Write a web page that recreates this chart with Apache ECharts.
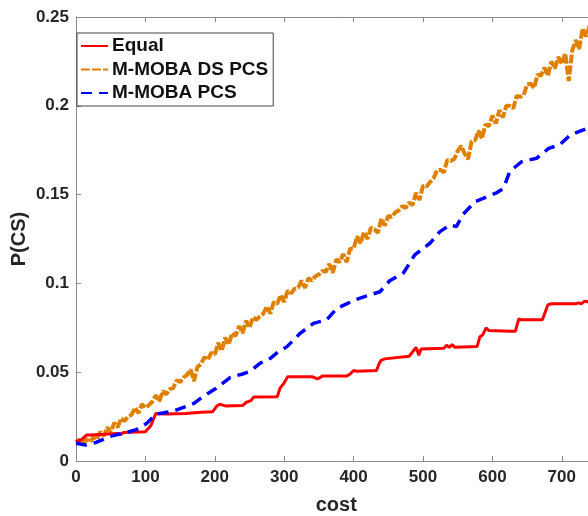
<!DOCTYPE html>
<html>
<head>
<meta charset="utf-8">
<script src="https://cdn.jsdelivr.net/npm/echarts@6/dist/echarts.min.js"></script>
<style>
html,body{margin:0;padding:0;background:#fff;overflow:hidden;}
#c{width:600px;height:516px;}
</style>
</head>
<body>
<div id="c"></div>
<script>
const seriesNames = ['Equal', 'M-MOBA DS PCS', 'M-MOBA PCS'];
const xTicks = [0, 100, 200, 300, 400, 500, 600, 700];
const yTicks = [0, 0.05, 0.1, 0.15, 0.2, 0.25];

// Equal (stepwise) : [cost, P(CS)]
const equalCost = [0,8,15,20,40,60,65,68,100,108,115,130,158,180,197,203,207,215,240,245,252,256,290,294,300,305,340,348,355,390,395,400,405,433,437,440,445,480,490,494,497,530,534,538,542,546,578,582,586,591,595,626,628,633,638,642,672,680,685,720,724,728,733,738,742,750];
const equalVal = [0.0110,0.0120,0.0146,0.0146,0.0150,0.0155,0.0150,0.0160,0.0165,0.0200,0.0268,0.0265,0.0268,0.0275,0.0278,0.0310,0.0320,0.0310,0.0312,0.0330,0.0340,0.0360,0.0362,0.0410,0.0440,0.0475,0.0475,0.0462,0.0478,0.0478,0.0490,0.0510,0.0505,0.0510,0.0550,0.0568,0.0575,0.0590,0.0640,0.0595,0.0630,0.0635,0.0652,0.0640,0.0655,0.0640,0.0645,0.0700,0.0710,0.0750,0.0735,0.0730,0.0720,0.0730,0.0800,0.0795,0.0795,0.0880,0.0885,0.0885,0.0890,0.0885,0.0900,0.0895,0.0915,0.0920];

// M-MOBA DS PCS (noisy), every 5 cost units from 0 to 750
const dsCost = [0,5,10,15,20,25,30,35,40,45,50,55,60,65,70,75,80,85,90,95,100,105,110,115,120,125,130,135,140,145,150,155,160,165,170,175,180,185,190,195,200,205,210,215,220,225,230,235,240,245,250,255,260,265,270,275,280,285,290,295,300,305,310,315,320,325,330,335,340,345,350,355,360,365,370,375,380,385,390,395,400,405,410,415,420,425,430,435,440,445,450,455,460,465,470,475,480,485,490,495,500,505,510,515,520,525,530,535,540,545,550,555,560,565,570,575,580,585,590,595,600,605,610,615,620,625,630,635,640,645,650,655,660,665,670,675,680,685,690,695,700,705,710,715,720,725,730,735,740,745,750];
const dsVal = [0.0105,0.0120,0.0095,0.0125,0.0105,0.0135,0.0120,0.0165,0.0140,0.0190,0.0160,0.0215,0.0190,0.0240,0.0225,0.0250,0.0260,0.0300,0.0270,0.0320,0.0300,0.0315,0.0335,0.0370,0.0335,0.0395,0.0375,0.0405,0.0410,0.0455,0.0445,0.0470,0.0485,0.0515,0.0450,0.0530,0.0545,0.0585,0.0570,0.0610,0.0600,0.0665,0.0620,0.0695,0.0655,0.0720,0.0705,0.0760,0.0720,0.0790,0.0750,0.0810,0.0795,0.0815,0.0830,0.0870,0.0830,0.0895,0.0885,0.0935,0.0895,0.0960,0.0945,0.0970,0.0975,0.1015,0.0975,0.1030,0.1015,0.1040,0.1050,0.1070,0.1065,0.1110,0.1060,0.1135,0.1120,0.1165,0.1120,0.1195,0.1195,0.1265,0.1225,0.1290,0.1250,0.1315,0.1305,0.1285,0.1365,0.1325,0.1380,0.1375,0.1400,0.1410,0.1435,0.1425,0.1455,0.1440,0.1510,0.1470,0.1550,0.1545,0.1570,0.1590,0.1635,0.1640,0.1625,0.1695,0.1690,0.1700,0.1745,0.1775,0.1730,0.1700,0.1800,0.1805,0.1860,0.1815,0.1895,0.1885,0.1945,0.1900,0.1975,0.1935,0.2000,0.2000,0.1985,0.2055,0.2050,0.2060,0.2120,0.2125,0.2100,0.2175,0.2170,0.2215,0.2170,0.2250,0.2210,0.2275,0.2235,0.2295,0.2140,0.2310,0.2370,0.2320,0.2435,0.2390,0.2450,0.2410,0.2450];

// M-MOBA PCS (smooth, dashed)
const pcsCost = [0,14,29,48,67,86,102,115,125,139,158,170,182,202,222,240,251,265,280,290,304,323,342,361,376,390,404,419,438,452,472,488,510,524,539,548,558,575,592,606,616,625,642,664,681,697,712,731,740,750];
const pcsVal = [0.0100,0.0090,0.0105,0.0137,0.0156,0.0175,0.0212,0.0265,0.0270,0.0280,0.0306,0.0325,0.0360,0.0410,0.0470,0.0490,0.0505,0.0550,0.0578,0.0610,0.0644,0.0719,0.0775,0.0794,0.0860,0.0885,0.0910,0.0930,0.0953,0.1015,0.1060,0.1160,0.1226,0.1290,0.1330,0.1320,0.1390,0.1460,0.1488,0.1510,0.1535,0.1630,0.1685,0.1705,0.1760,0.1780,0.1835,0.1864,0.1880,0.1890];

const zip = (a, b) => a.map((v, i) => [v, b[i]]);

const FONT = 'Liberation Sans';
const AX = '#8a8a8a';
const TXT = '#262626';

const chart = echarts.init(document.getElementById('c'), null, {renderer: 'canvas'});
chart.setOption({
  animation: false,
  backgroundColor: '#fff',
  grid: {left: 76, top: 17, width: 520.5, height: 444, containLabel: false, outerBoundsMode: 'none'},
  legend: {
    orient: 'vertical', left: 77, top: 33,
    padding: [3, 5, 3, 3],
    itemGap: 3.5, itemWidth: 27, itemHeight: 14,
    backgroundColor: '#fff', borderColor: '#444', borderWidth: 1,
    itemStyle: {opacity: 0},
    textStyle: {fontFamily: FONT, fontWeight: 'bold', fontSize: 19, lineHeight: 20, color: '#111', padding: [0, 0, 0, -1]},
    data: seriesNames
  },
  xAxis: [{
    type: 'value', min: 0, max: 750, interval: 100,
    name: 'cost', nameLocation: 'middle', nameGap: 34, nameMoveOverlap: false,
    nameTextStyle: {fontFamily: FONT, fontWeight: 'bold', fontSize: 20, color: TXT},
    axisLine: {show: true, lineStyle: {color: AX, width: 1}},
    axisTick: {show: true, inside: true, length: 5, lineStyle: {color: AX}},
    axisLabel: {fontFamily: FONT, fontWeight: 'bold', fontSize: 17, color: TXT, margin: 8, showMaxLabel: false,
      formatter: v => (xTicks.indexOf(v) >= 0 ? String(v) : '')},
    splitLine: {show: false}
  }, {
    type: 'value', position: 'top', min: 0, max: 750, interval: 100,
    axisLine: {show: true, lineStyle: {color: AX, width: 1}},
    axisTick: {show: true, inside: true, length: 5, lineStyle: {color: AX}},
    axisLabel: {show: false},
    splitLine: {show: false}
  }],
  yAxis: {
    type: 'value', min: 0, max: 0.25, interval: 0.05,
    name: 'P(CS)', nameLocation: 'middle', nameGap: 47, nameRotate: 90, nameMoveOverlap: false,
    nameTextStyle: {fontFamily: FONT, fontWeight: 'bold', fontSize: 20, color: TXT},
    axisLine: {show: true, lineStyle: {color: AX, width: 1}},
    axisTick: {show: true, inside: true, length: 5, lineStyle: {color: AX}},
    axisLabel: {fontFamily: FONT, fontWeight: 'bold', fontSize: 17, color: TXT, margin: 7,
      formatter: v => { const t = yTicks.find(k => Math.abs(k - v) < 1e-9); return t === undefined ? '' : String(t); }},
    splitLine: {show: false}
  },
  series: [
    {name: seriesNames[0], type: 'line', data: zip(equalCost, equalVal), showSymbol: false, symbol: 'none',
     lineStyle: {color: '#ff0000', width: 3}, itemStyle: {color: '#ff0000'}, z: 4},
    {name: seriesNames[1], type: 'line', data: zip(dsCost, dsVal), showSymbol: false, symbol: 'none',
     lineStyle: {color: '#e08000', width: 4, type: [9, 2]}, itemStyle: {color: '#e08000'}, z: 3},
    {name: seriesNames[2], type: 'line', data: zip(pcsCost, pcsVal), showSymbol: false, symbol: 'none',
     lineStyle: {color: '#0000ff', width: 3.5, type: [11, 7]}, itemStyle: {color: '#0000ff'}, z: 5}
  ]
});
</script>
</body>
</html>
